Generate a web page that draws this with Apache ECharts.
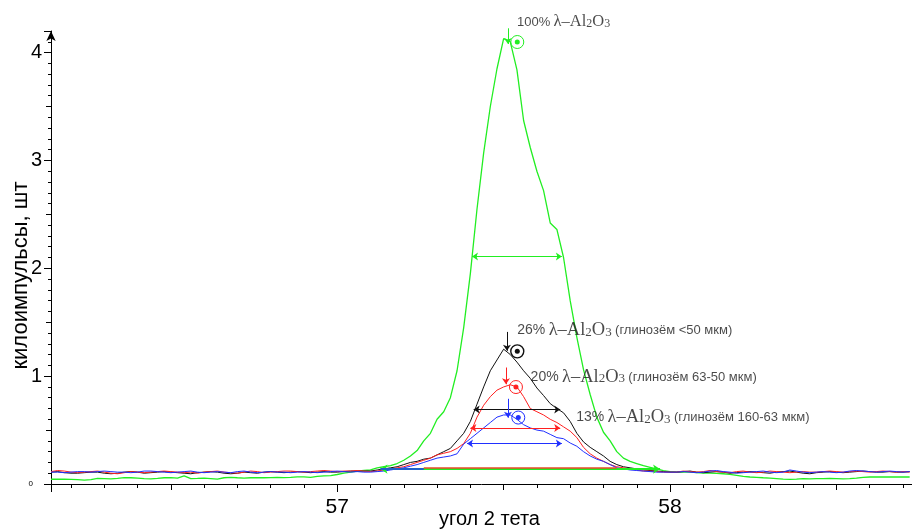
<!DOCTYPE html>
<html><head><meta charset="utf-8">
<script src="https://cdn.jsdelivr.net/npm/echarts@6/dist/echarts.min.js"></script>
<style>html,body{margin:0;padding:0;background:#fff}#c{width:912px;height:529px}</style>
</head><body><div id="c"></div>
<script>
// sampling grid of the diffractograms (2θ, degrees)
const xStart = 56.14, xStep = 0.02;

const greenY = [
0.044,0.045,0.044,0.042,0.040,0.036,0.040,0.052,0.050,0.048,
0.052,0.060,0.058,0.055,0.050,0.048,0.052,0.058,0.060,0.055,
0.075,0.050,0.052,0.055,0.050,0.045,0.058,0.062,0.058,0.055,
0.058,0.060,0.058,0.060,0.062,0.060,0.062,0.066,0.066,0.062,
0.070,0.075,0.078,0.088,0.100,0.110,0.120,0.125,
0.13,0.15,0.16,0.17,0.19,0.22,0.26,0.31,0.40,0.47,
0.60,0.67,0.80,1.05,1.45,1.95,2.55,3.07,3.50,3.85,
4.13,4.10,3.84,3.37,3.12,2.90,2.72,2.42,2.36,2.10,
1.70,1.36,1.06,0.83,0.62,0.48,0.40,0.30,0.24,0.21,
0.19,0.17,0.155,0.14,0.125,0.115,
0.110,0.110,0.110,0.105,0.100,0.100,0.098,0.095,0.090,0.080,
0.070,0.065,0.062,0.058,0.055,0.050,0.045,0.042,0.045,0.050,
0.048,0.050,0.050,0.052,0.050,0.048,0.050,0.055,0.062,0.065,
0.065,0.065,0.066,0.065,0.065,0.065];

const blackY = [
0.11,0.115,0.105,0.10,0.10,0.105,0.11,0.11,0.10,0.095,
0.10,0.11,0.115,0.11,0.10,0.105,0.11,0.115,0.11,0.105,
0.10,0.095,0.105,0.11,0.115,0.11,0.10,0.095,0.10,0.11,
0.105,0.10,0.11,0.115,0.11,0.105,0.11,0.115,0.11,0.105,
0.11,0.115,0.11,0.11,0.115,0.12,0.12,0.12,
0.12,0.13,0.14,0.15,0.16,0.18,0.20,0.21,0.23,0.24,
0.27,0.30,0.33,0.40,0.47,0.58,0.74,0.90,1.05,1.15,
1.25,1.20,1.13,1.05,0.98,0.89,0.82,0.745,0.70,0.66,
0.58,0.47,0.39,0.34,0.30,0.26,0.21,0.18,0.16,0.15,
0.14,0.13,0.125,0.12,0.115,0.11,
0.11,0.115,0.12,0.11,0.105,0.11,0.115,0.11,0.10,0.105,
0.11,0.115,0.11,0.105,0.10,0.11,0.115,0.12,0.11,0.10,
0.095,0.105,0.11,0.115,0.11,0.105,0.11,0.115,0.12,0.115,
0.11,0.11,0.115,0.11,0.11,0.115];

const redY = [
0.115,0.125,0.12,0.11,0.105,0.11,0.115,0.12,0.11,0.10,
0.095,0.105,0.115,0.11,0.105,0.11,0.115,0.12,0.115,0.11,
0.105,0.11,0.10,0.11,0.115,0.12,0.11,0.105,0.10,0.11,
0.12,0.115,0.105,0.11,0.115,0.12,0.12,0.115,0.11,0.115,
0.12,0.125,0.12,0.115,0.12,0.12,0.125,0.12,
0.115,0.12,0.13,0.14,0.15,0.16,0.18,0.20,0.22,0.24,
0.27,0.285,0.30,0.33,0.375,0.47,0.62,0.73,0.81,0.87,
0.90,0.92,0.90,0.81,0.70,0.67,0.64,0.60,0.57,0.53,
0.49,0.43,0.34,0.28,0.24,0.21,0.18,0.16,0.15,0.14,
0.13,0.12,0.12,0.115,0.11,0.11,
0.11,0.12,0.115,0.11,0.115,0.125,0.115,0.11,0.105,0.115,
0.12,0.11,0.105,0.11,0.12,0.115,0.11,0.105,0.11,0.115,
0.11,0.11,0.115,0.12,0.115,0.11,0.115,0.12,0.115,0.11,
0.115,0.12,0.115,0.11,0.115,0.11];

const blueY = [
0.11,0.11,0.105,0.11,0.115,0.115,0.11,0.115,0.12,0.115,
0.11,0.11,0.105,0.11,0.12,0.12,0.115,0.11,0.105,0.11,
0.115,0.12,0.11,0.105,0.11,0.115,0.11,0.105,0.115,0.12,
0.11,0.105,0.11,0.115,0.11,0.11,0.105,0.11,0.115,0.11,
0.105,0.11,0.115,0.12,0.115,0.11,0.115,0.11,
0.11,0.115,0.12,0.13,0.14,0.15,0.165,0.18,0.20,0.22,
0.24,0.25,0.26,0.28,0.37,0.42,0.47,0.52,0.57,0.62,
0.64,0.64,0.60,0.55,0.52,0.50,0.49,0.46,0.43,0.42,
0.38,0.35,0.30,0.26,0.23,0.21,0.18,0.15,0.14,0.13,
0.125,0.12,0.115,0.11,0.11,0.11,
0.11,0.115,0.11,0.105,0.11,0.12,0.125,0.115,0.11,0.10,
0.105,0.11,0.115,0.12,0.11,0.105,0.11,0.13,0.12,0.11,
0.105,0.11,0.115,0.11,0.105,0.11,0.12,0.125,0.12,0.115,
0.11,0.115,0.12,0.115,0.11,0.115];

// annotations (green, black, red, blue)
const pctText   = ['100%', '26%', '20%', '13%'];
const noteText  = ['', '(глинозём <50 мкм)', '(глинозём 63-50 мкм)', '(глинозём 160-63 мкм)'];
const labelX    = [57.540, 57.541, 57.581, 57.718];
const labelY    = [4.284, 1.425, 0.992, 0.616];
const ringX     = [57.541, 57.541, 57.537, 57.544];
const ringY     = [4.098, 1.230, 0.899, 0.616];
const arrowX    = [57.513, 57.510, 57.507, 57.513];
const arrowTop  = [4.225, 1.41, 1.08, 0.79];
const arrowTip  = [4.08, 1.235, 0.925, 0.615];
const fwhmY     = [2.11, 0.69, 0.52, 0.375];
const fwhmX1    = [57.405, 57.41, 57.40, 57.39];
const fwhmX2    = [57.675, 57.67, 57.67, 57.675];
// background baseline segments [x1, x2, y]
const baseGreen = [57.13, 57.97, 0.138];
const baseRed   = [57.26, 57.84, 0.153];
const baseBlue  = [57.13, 57.26, 0.145];

const colors = ['#22ee22', '#111111', '#ff2020', '#2030ff'];
const SANS = 'Liberation Sans';
const SERIF = 'Liberation Serif';
const TXT = '#1a1a1a';

const xs = greenY.map((_, i) => +(xStart + i * xStep).toFixed(2));
const toPts = ys => ys.map((y, i) => [xs[i], y]);
const isInt = v => Math.abs(v - Math.round(v)) < 1e-6;

const chart = echarts.init(document.getElementById('c'), null, {renderer: 'canvas'});

const series = [];
[greenY, blackY, redY, blueY].forEach((ys, k) => {
  series.push({type: 'line', data: toPts(ys), showSymbol: false, symbol: 'none',
    lineStyle: {color: colors[k], width: k === 0 ? 1.3 : 1}, z: 2 + k, silent: true});
});

// baseline segments
series.push({type: 'lines', coordinateSystem: 'cartesian2d', clip: false, z: 6,
  symbol: ['arrow', 'arrow'], symbolSize: 7,
  lineStyle: {color: colors[0], width: 2, curveness: 0, opacity: 1},
  data: [{coords: [[baseGreen[0], baseGreen[2]], [baseGreen[1], baseGreen[2]]]}]});
series.push({type: 'lines', coordinateSystem: 'cartesian2d', clip: false, z: 7, symbol: 'none',
  lineStyle: {color: '#e84a2a', width: 1.5, curveness: 0, opacity: 1},
  data: [{coords: [[baseRed[0], baseRed[2]], [baseRed[1], baseRed[2]]]}]});
series.push({type: 'lines', coordinateSystem: 'cartesian2d', clip: false, z: 7, symbol: 'none',
  lineStyle: {color: colors[3], width: 1.5, curveness: 0, opacity: 1},
  data: [{coords: [[baseBlue[0], baseBlue[2]], [baseBlue[1], baseBlue[2]]]}]});

for (let k = 0; k < 4; k++) {
  // FWHM double arrow
  series.push({type: 'lines', coordinateSystem: 'cartesian2d', clip: false, z: 8,
    symbol: ['arrow', 'arrow'], symbolSize: 6,
    lineStyle: {color: colors[k], width: 1, curveness: 0, opacity: 1},
    data: [{coords: [[fwhmX1[k], fwhmY[k]], [fwhmX2[k], fwhmY[k]]]}]});
  // peak arrow
  series.push({type: 'lines', coordinateSystem: 'cartesian2d', clip: false, z: 8,
    symbol: ['none', 'arrow'], symbolSize: 6,
    lineStyle: {color: colors[k], width: 1, curveness: 0, opacity: 1},
    data: [{coords: [[arrowX[k], arrowTop[k]], [arrowX[k], arrowTip[k]]]}]});
  // ring marker + dot
  series.push({type: 'scatter', clip: false, z: 9, symbol: 'circle', symbolSize: 13,
    itemStyle: {color: 'rgba(255,255,255,0)', borderColor: colors[k], borderWidth: k === 1 ? 1.4 : 1, opacity: 1},
    data: [[ringX[k], ringY[k]]]});
  series.push({type: 'scatter', clip: false, z: 10, symbol: 'circle', symbolSize: 5,
    itemStyle: {color: colors[k], opacity: 1}, data: [[ringX[k], ringY[k]]]});
  // label
  const big = k === 0 ? 16.5 : 18.5, small = k === 0 ? 13 : 14;
  series.push({type: 'scatter', clip: false, z: 11, symbolSize: 0,
    data: [[labelX[k], labelY[k]]],
    label: {show: true, position: 'right', distance: 0, color: TXT,
      formatter: '{p|' + pctText[k] + '} {l|λ–Al}{s|2}{l|O}{s|3}' + (noteText[k] ? ' {t|' + noteText[k] + '}' : ''),
      rich: {
        p: {fontFamily: SANS, fontSize: small, color: TXT},
        l: {fontFamily: SERIF, fontSize: big, color: TXT},
        s: {fontFamily: SERIF, fontSize: Math.round(big * 0.72), color: TXT, padding: [4, 0, 0, 0]},
        t: {fontFamily: SANS, fontSize: 13, color: TXT}
      }}});
}

const axisCol = '#000';
const option = {
  animation: false,
  backgroundColor: '#fff',
  grid: {left: 51, right: 0, top: 31, bottom: 45, containLabel: false, outerBoundsMode: 'none'},
  xAxis: [{
    type: 'value', min: 56.14, max: 58.727, splitNumber: 5,
    axisLine: {lineStyle: {color: axisCol, width: 1}},
    axisTick: {length: 6, lineStyle: {color: axisCol}},
    minorTick: {show: true, splitNumber: 5, length: 4, lineStyle: {color: axisCol}},
    splitLine: {show: false},
    axisLabel: {formatter: v => isInt(v) ? String(Math.round(v)) : '', fontSize: 21,
      fontFamily: SANS, color: '#000', margin: 13, showMinLabel: false, showMaxLabel: false},
    name: 'угол 2 тета', nameLocation: 'middle', nameGap: 25, nameMoveOverlap: false,
    nameTextStyle: {fontSize: 20, fontFamily: SANS, color: '#000', padding: [0, 0, 0, 16]}
  }, {
    type: 'value', min: 56.14, max: 58.727, splitNumber: 2, position: 'bottom',
    axisLine: {show: false}, axisTick: {show: true, length: 8, lineStyle: {color: axisCol}},
    axisLabel: {show: false}, splitLine: {show: false}
  }],
  yAxis: [{
    type: 'value', min: 0, max: 4.2, interval: 1, position: 'left',
    axisLine: {show: true, symbol: ['none', 'arrow'], symbolSize: [7, 10], lineStyle: {color: axisCol, width: 1}},
    axisTick: {length: 7, lineStyle: {color: axisCol}},
    minorTick: {show: true, splitNumber: 10, length: 3, lineStyle: {color: axisCol}},
    splitLine: {show: false},
    axisLabel: {formatter: v => v === 0 ? '{z|0}' : (isInt(v) ? String(Math.round(v)) : ''),
      fontSize: 20, fontFamily: SANS, color: '#000', margin: 9,
      rich: {z: {fontSize: 8, fontFamily: SANS, color: '#000', padding: [0, 9, 0, 0]}}},
    name: 'килоимпульсы, шт', nameLocation: 'middle', nameGap: 19, nameMoveOverlap: false,
    nameTextStyle: {fontSize: 22, fontFamily: SANS, color: '#000', padding: [0, 36, 0, 0]}
  }, {
    type: 'value', min: 0, max: 4.2, interval: 0.5, position: 'left', offset: 0,
    axisLine: {show: false}, axisTick: {show: true, length: 5, lineStyle: {color: axisCol}},
    axisLabel: {show: false}, splitLine: {show: false}
  }],
  series: series
};
chart.setOption(option);
</script></body></html>
